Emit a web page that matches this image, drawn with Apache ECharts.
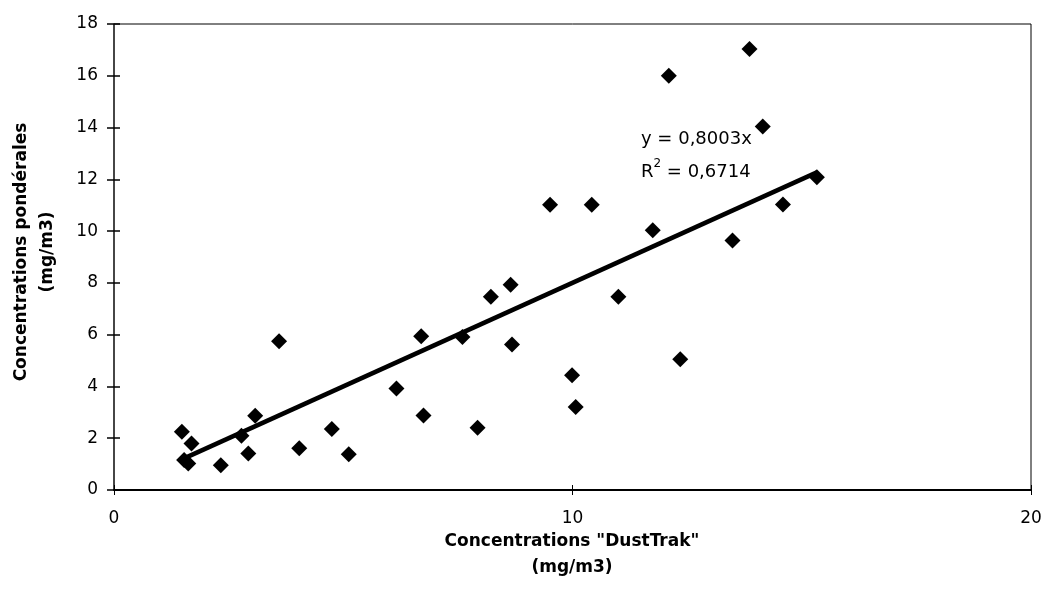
<!DOCTYPE html>
<html>
<head>
<meta charset="utf-8">
<script src="https://cdn.jsdelivr.net/npm/echarts@6/dist/echarts.min.js"></script>
<style>
html,body{margin:0;padding:0;background:#fff;}
#chart{width:1049px;height:590px;}
</style>
</head>
<body>
<div id="chart"></div>
<script>
// DustTrak concentrations (mg/m3)
const xValues = [1.48, 1.69, 1.53, 1.62, 2.33, 2.78, 2.93, 3.08, 3.60, 4.04, 4.75, 5.12, 6.16, 6.70, 6.75, 7.60, 7.93, 8.22, 8.65, 8.68, 9.51, 9.99, 10.07, 10.42, 11.00, 11.75, 12.10, 12.35, 13.49, 13.86, 14.15, 14.59, 15.33];
// Gravimetric concentrations (mg/m3)
const yValues = [2.25, 1.80, 1.16, 1.02, 0.96, 2.10, 1.41, 2.87, 5.75, 1.61, 2.36, 1.38, 3.92, 5.94, 2.88, 5.91, 2.40, 7.46, 7.93, 5.62, 11.02, 4.43, 3.21, 11.02, 7.46, 10.03, 16.00, 5.05, 9.64, 17.03, 14.04, 11.03, 12.08];
const slope = 0.8003;
const eqText = 'y = 0,8003x';
const r2Value = '0,6714';
const xTicks = [0, 10, 20];
const yTicks = [0, 2, 4, 6, 8, 10, 12, 14, 16, 18];
const xTitle = 'Concentrations "DustTrak"\n(mg/m3)';
const yTitle = 'Concentrations pondérales\n(mg/m3)';

const points = xValues.map((x, i) => [x, yValues[i]]);
const xMin = Math.min(...xValues), xMax = Math.max(...xValues);
const trend = [[xMin, slope * xMin], [xMax, slope * xMax]];

const FONT = '"DejaVu Sans", sans-serif';
const chart = echarts.init(document.getElementById('chart'));
const grid = {left: 114, right: 18, top: 24, bottom: 100, show: true, borderColor: '#000', borderWidth: 1, backgroundColor: 'transparent'};

const baseX = {
  type: 'value', min: xTicks[0], max: xTicks[xTicks.length - 1], interval: 10,
  splitLine: {show: false}
};
const baseY = {
  type: 'value', min: yTicks[0], max: yTicks[yTicks.length - 1], interval: 2,
  splitLine: {show: false}
};

chart.setOption({
  animation: false,
  backgroundColor: '#fff',
  grid: grid,
  xAxis: [
    Object.assign({}, baseX, {
      axisLine: {show: true, onZero: false, lineStyle: {color: '#000', width: 2}},
      axisTick: {show: true, length: 5, lineStyle: {color: '#000', width: 1}},
      axisLabel: {color: '#000', fontFamily: FONT, fontSize: 17, margin: 20}
    }),
    Object.assign({}, baseX, {
      position: 'bottom',
      axisLine: {show: false},
      axisTick: {show: true, inside: true, length: 5, lineStyle: {color: '#000', width: 1}},
      axisLabel: {show: false}
    })
  ],
  yAxis: [
    Object.assign({}, baseY, {
      axisLine: {show: true, onZero: false, lineStyle: {color: '#333', width: 1.5}},
      axisTick: {show: true, length: 7, lineStyle: {color: '#000', width: 1.5}},
      axisLabel: {color: '#000', fontFamily: FONT, fontSize: 17, margin: 16}
    }),
    Object.assign({}, baseY, {
      position: 'left',
      axisLine: {show: false},
      axisTick: {show: true, inside: true, length: 6, lineStyle: {color: '#000', width: 1.5}},
      axisLabel: {show: false}
    })
  ],
  series: [
    {
      type: 'line',
      data: trend,
      symbol: 'none',
      lineStyle: {color: '#000', width: 4.5},
      z: 2
    },
    {
      type: 'scatter',
      data: points,
      symbol: 'diamond',
      symbolSize: [16, 16],
      itemStyle: {color: '#000', opacity: 1},
      emphasis: {disabled: true},
      z: 3
    }
  ],
  graphic: [
    {
      type: 'text', left: 641, top: 130,
      style: {text: eqText, fill: '#000', font: '18px ' + FONT}
    },
    {
      type: 'text', left: 641, top: 157,
      style: {
        text: '{n|R}{s|2}{n| = ' + r2Value + '}',
        rich: {
          n: {fontFamily: FONT, fontSize: 18, color: '#000', lineHeight: 24, verticalAlign: 'bottom'},
          s: {fontFamily: FONT, fontSize: 12, color: '#000', lineHeight: 24, verticalAlign: 'top', padding: [1, 0, 0, 0]}
        }
      }
    },
    {
      type: 'text', x: 572, y: 555,
      style: {text: xTitle, fill: '#000', font: 'bold 17px ' + FONT, align: 'center', verticalAlign: 'middle', lineHeight: 26}
    },
    {
      type: 'text', x: 35, y: 252, rotation: Math.PI / 2,
      style: {text: yTitle, fill: '#000', font: 'bold 17px ' + FONT, align: 'center', verticalAlign: 'middle', lineHeight: 26}
    }
  ]
});
</script>
</body>
</html>
